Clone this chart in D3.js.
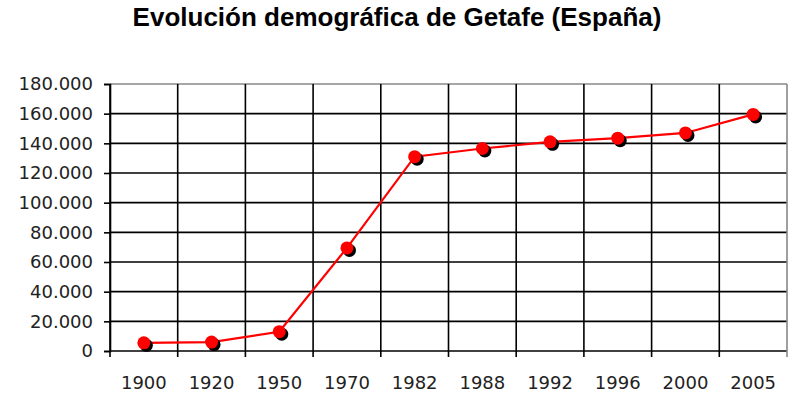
<!DOCTYPE html>
<html lang="es">
<head>
<meta charset="UTF-8" />
<title>Evolución demográfica de Getafe</title>
<script src="https://d3js.org/d3.v7.min.js"></script>
<style>
  body { margin: 0; background: #fff; }
  svg text { font-family: "DejaVu Sans", sans-serif; }
</style>
</head>
<body>
<script>
var years = ["1900", "1920", "1950", "1970", "1982", "1988", "1992", "1996", "2000", "2005"];
var population = [5500, 6000, 13000, 69500, 131000, 136500, 141000, 143500, 147000, 159500];
var yTicks = [0, 20000, 40000, 60000, 80000, 100000, 120000, 140000, 160000, 180000];

var title = "Evolución demográfica de Getafe (España)";
var W = 800, H = 400;
var margin = { top: 84, right: 13, bottom: 49, left: 110 };
var width = W - margin.left - margin.right,
    height = H - margin.top - margin.bottom;

var es = d3.formatLocale({ decimal: ",", thousands: ".", grouping: [3], currency: ["", "€"] });
var fmt = es.format(",");

var x = d3.scaleBand().domain(years).range([0, width]).padding(0);
var y = d3.scaleLinear().domain([0, 180000]).range([height, 0]);

var svg = d3.select("body").append("svg")
  .attr("width", W)
  .attr("height", H);

svg.append("text")
  .attr("x", 397)
  .attr("y", 26)
  .attr("text-anchor", "middle")
  .style("font-family", "'Liberation Sans', Arial, sans-serif")
  .attr("font-size", 26)
  .attr("font-weight", "bold")
  .attr("fill", "#000")
  .text(title);

var g = svg.append("g")
  .attr("transform", "translate(" + margin.left + "," + margin.top + ")");

// horizontal grid
g.append("g")
  .selectAll("line")
  .data(yTicks)
  .join("line")
  .attr("x1", 0)
  .attr("x2", width)
  .attr("y1", d => y(d))
  .attr("y2", d => y(d))
  .attr("stroke", d => d === 180000 ? "#888" : "#000")
  .attr("stroke-width", 1.6);

// vertical grid at category boundaries
var bounds = years.map(d => x(d)).concat([width]);
g.append("g")
  .selectAll("line")
  .data(bounds)
  .join("line")
  .attr("x1", d => d)
  .attr("x2", d => d)
  .attr("y1", 0)
  .attr("y2", height + 6)
  .attr("stroke", (d, i) => i === bounds.length - 1 ? "#888" : "#000")
  .attr("stroke-width", 1.6);

// y axis
var yAxis = d3.axisLeft(y)
  .tickValues(yTicks)
  .tickFormat(d => fmt(d))
  .tickSize(6)
  .tickPadding(11);

var ya = g.append("g").call(yAxis);
ya.select(".domain").attr("stroke", "#000").attr("stroke-width", 1.6);
ya.selectAll(".tick line").attr("stroke", "#000").attr("stroke-width", 1.6);
ya.selectAll(".tick text")
  .attr("font-size", 18)
  .attr("fill", "#222")
  .style("font-family", "'DejaVu Sans', sans-serif");

// x labels
var xAxis = d3.axisBottom(x).tickSize(0).tickPadding(25);
var xa = g.append("g").attr("transform", "translate(0," + height + ")").call(xAxis);
xa.select(".domain").remove();
xa.selectAll(".tick text")
  .attr("font-size", 18)
  .attr("fill", "#222")
  .style("font-family", "'DejaVu Sans', sans-serif");

// line
var cx = d => x(d) + x.bandwidth() / 2;
var line = d3.line()
  .x((d, i) => cx(years[i]))
  .y(d => y(d));

g.append("path")
  .datum(population)
  .attr("fill", "none")
  .attr("stroke", "#ff0000")
  .attr("stroke-width", 2.2)
  .attr("d", line);

// shadows
g.append("g")
  .selectAll("circle")
  .data(population)
  .join("circle")
  .attr("cx", (d, i) => cx(years[i]) + 2.5)
  .attr("cy", d => y(d) + 2.5)
  .attr("r", 6.5)
  .attr("fill", "#000");

// markers
g.append("g")
  .selectAll("circle")
  .data(population)
  .join("circle")
  .attr("cx", (d, i) => cx(years[i]))
  .attr("cy", d => y(d))
  .attr("r", 6.5)
  .attr("fill", "#ff0000");
</script>
</body>
</html>
